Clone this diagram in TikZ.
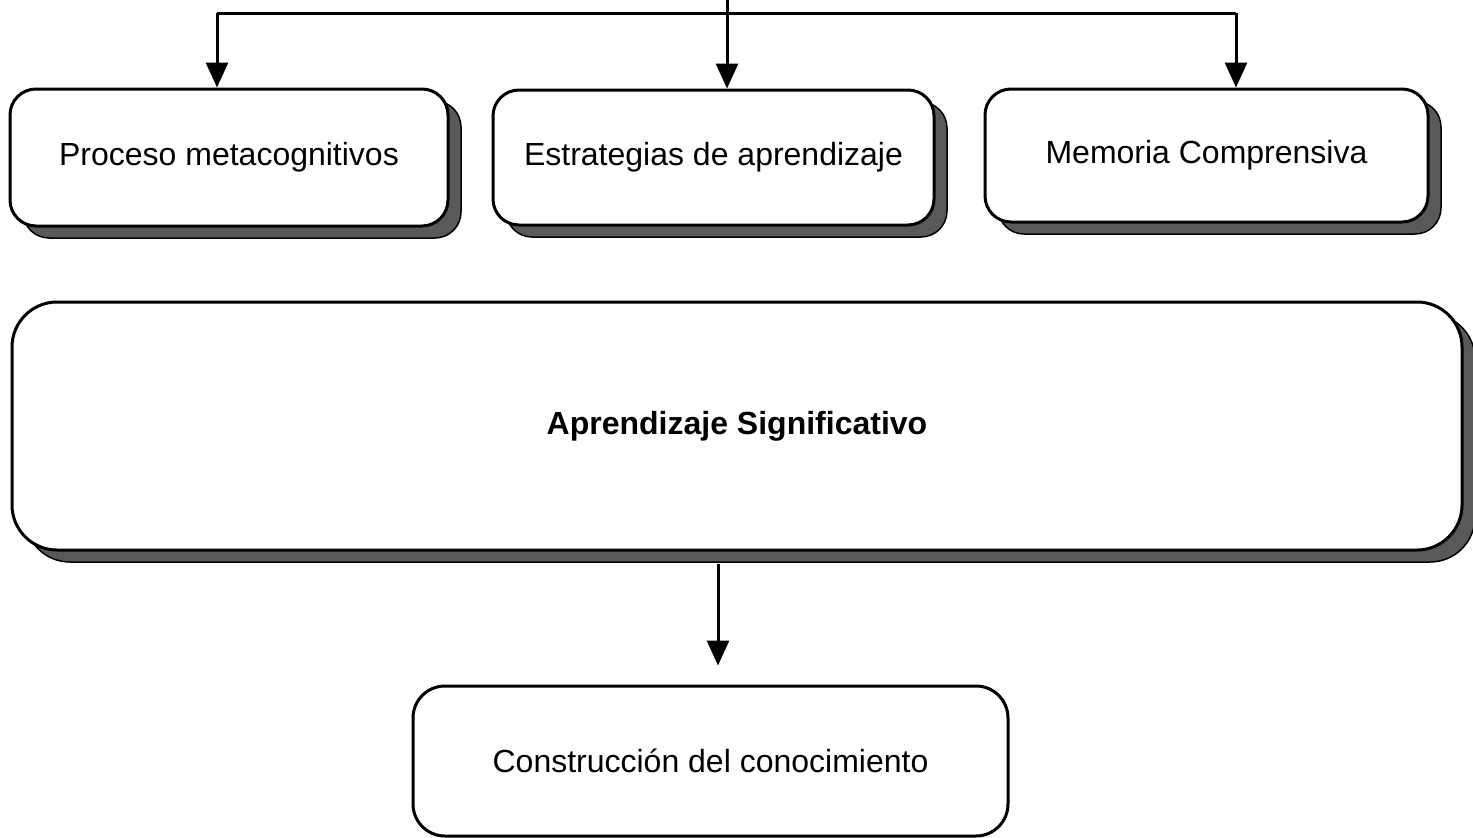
\documentclass[tikz,border=0pt]{standalone}
\usepackage{fontspec}
\setmainfont{Liberation Sans}
\usetikzlibrary{arrows.meta,shadows}
\begin{document}
\begin{tikzpicture}[x=1pt,y=-1pt,
  box/.style={draw=black,line width=3pt,rounded corners=26pt,fill=white,
    inner sep=0pt,font=\fontsize{32}{37}\selectfont},
  shbox/.style={box,drop shadow={shadow xshift=13pt,shadow yshift=-12pt,
    fill=black!65,draw=black,line width=1.5pt,opacity=1}},
  arr/.style={line width=3pt,-{Triangle[width=22pt,length=25pt]}}]
\useasboundingbox (0,0) rectangle (1473,838);
\node[shbox,minimum width=438pt,minimum height=137pt] (b1) at (229,157.5) {Proceso metacognitivos};
\node[shbox,minimum width=441pt,minimum height=135pt] (b2) at (713.5,157.5) {Estrategias de aprendizaje};
\node[shbox,minimum width=443pt,minimum height=133pt] (b3) at (1206.5,155.5) {Memoria Comprensiva};
\node[shbox,rounded corners=45pt,minimum width=1450pt,minimum height=248pt] (big) at (737,426) {\bfseries Aprendizaje Significativo};
\node[box,rounded corners=32pt,minimum width=595pt,minimum height=150pt] (b4) at (710.5,761) {Construcción del conocimiento};
\coordinate (top) at (727,0);
\coordinate (h1) at (217,13);
\coordinate (h3) at (1236,13);
\coordinate (a) at (718,0);
\draw[arr] (top) -- (top |- b2.north);
\draw[line width=3pt] (h1) -- (h3);
\draw[arr] (h1) -- (h1 |- b1.north);
\draw[arr] (h3) -- (h3 |- b3.north);
\draw[arr,shorten <=12pt,shorten >=19pt] (a |- big.south) -- (a |- b4.north);
\end{tikzpicture}
\end{document}
